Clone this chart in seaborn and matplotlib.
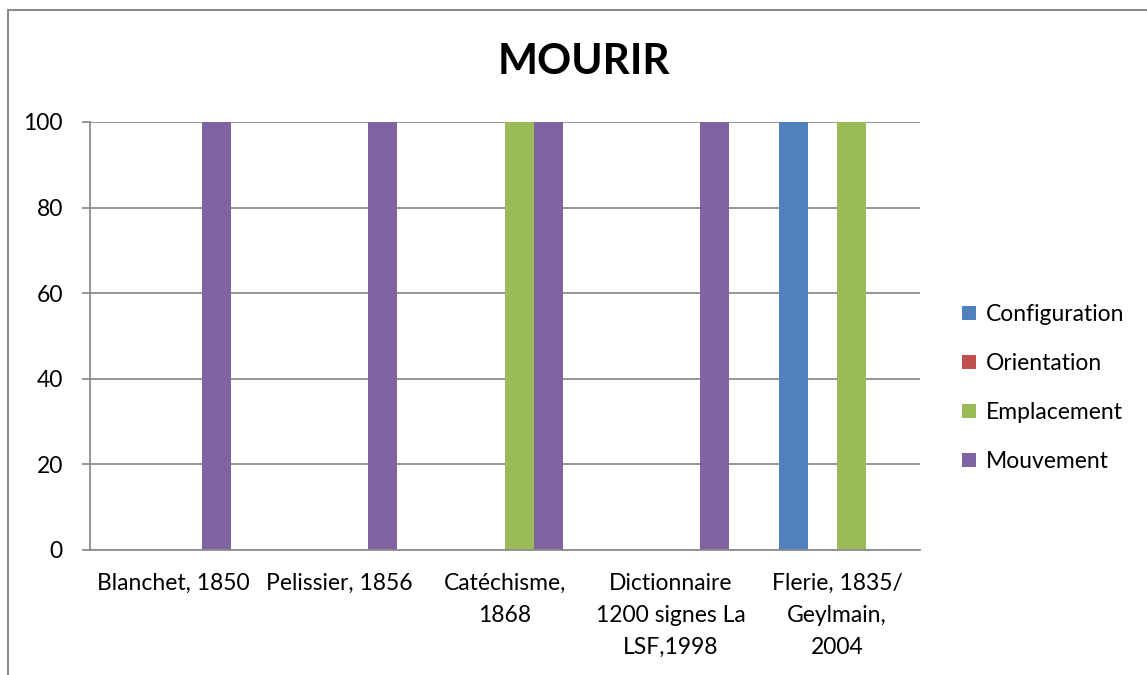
import pandas as pd
import numpy as np
import matplotlib.pyplot as plt
from matplotlib.lines import Line2D
from matplotlib.patches import Patch
import seaborn as sns

plt.close("all")

## Data
sources = ["Blanchet, 1850", "Pelissier, 1856", "Catéchisme,\n1868",
           "Dictionnaire\n1200 signes La\nLSF,1998", "Flerie, 1835/\nGeylmain,\n2004"]
criteres = ["Configuration", "Orientation", "Emplacement", "Mouvement"]
configuration = [0, 0, 0, 0, 100]
orientation = [0, 0, 0, 0, 0]
emplacement = [0, 0, 100, 0, 100]
mouvement = [100, 100, 100, 100, 0]
yticks = [0, 20, 40, 60, 80, 100]

colors = ["#4F81BD", "#C0504D", "#9BBB59", "#8064A2"]

series = {"Configuration": configuration, "Orientation": orientation,
          "Emplacement": emplacement, "Mouvement": mouvement}
df = pd.DataFrame([
    {"source": s, "critere": c, "valeur": series[c][i]}
    for c in criteres for i, s in enumerate(sources)
])

sns.set_style("white")
plt.rcParams["font.family"] = ["Lato", "DejaVu Sans"]
plt.rcParams["text.color"] = "black"

grid_col = "#8C8C8C"
fs = 16.5

fig = plt.figure(figsize=(11.47, 6.75), dpi=100)
ax = fig.add_axes([90 / 1147, 1 - 550 / 675, 830 / 1147, 428 / 675])

sns.barplot(data=df, x="source", y="valeur", hue="critere", order=sources,
            hue_order=criteres, palette=colors, saturation=1, width=0.7,
            linewidth=0, ax=ax, legend=False)

ax.set_ylim(0, 100)
ax.set_xlim(-0.5, len(sources) - 0.5)
ax.set_yticks(yticks)
ax.set_yticklabels([str(v) for v in yticks])
ax.yaxis.grid(True, color=grid_col, linewidth=1.3)
ax.set_axisbelow(True)

# Excel-style category ticks between groups, labels centered
ax.set_xticks(np.arange(-0.5, len(sources), 1.0))
ax.set_xticklabels([""] * (len(sources) + 1))
ax.set_xticks(np.arange(len(sources)), minor=True)
ax.set_xticklabels(sources, minor=True, fontsize=fs, linespacing=1.65)
ax.tick_params(axis="x", which="major", length=5.5, width=1.3, color=grid_col, direction="out")
ax.tick_params(axis="x", which="minor", length=0, pad=16.5, labelcolor="black")
ax.tick_params(axis="y", length=5.5, width=1.3, color=grid_col, labelsize=fs, pad=14,
               left=True, labelcolor="black")
for lab in ax.get_xticklabels(minor=True):
    lab.set_verticalalignment("top")
    lab.set_horizontalalignment("center")
    lab.set_multialignment("center")

ax.set_xlabel("")
ax.set_ylabel("")
for side in ["top", "right"]:
    ax.spines[side].set_visible(False)
for side in ["left", "bottom"]:
    ax.spines[side].set_color(grid_col)
    ax.spines[side].set_linewidth(1.3)

# Title
fig.text(584 / 1147, 1 - 62 / 675, "MOURIR", ha="center", va="center",
         fontsize=30.5, fontweight="bold")

# Legend
handles = [Patch(facecolor=c, edgecolor="none", label=l) for c, l in zip(colors, criteres)]
fig.legend(handles=handles, loc="center left", bbox_to_anchor=(962 / 1147, 1 - 388 / 675),
           frameon=False, fontsize=fs, handlelength=0.6, handleheight=0.6,
           handletextpad=0.45, labelspacing=1.22, borderaxespad=0, borderpad=0)

# Chart area border (cropped: only left and top visible)
fig.add_artist(Line2D([8 / 1147, 8 / 1147], [0, 1 - 10 / 675], transform=fig.transFigure,
                      color=grid_col, linewidth=1.5))
fig.add_artist(Line2D([8 / 1147, 1], [1 - 10 / 675, 1 - 10 / 675], transform=fig.transFigure,
                      color=grid_col, linewidth=1.5))

fig.savefig("out.png", dpi=100)
